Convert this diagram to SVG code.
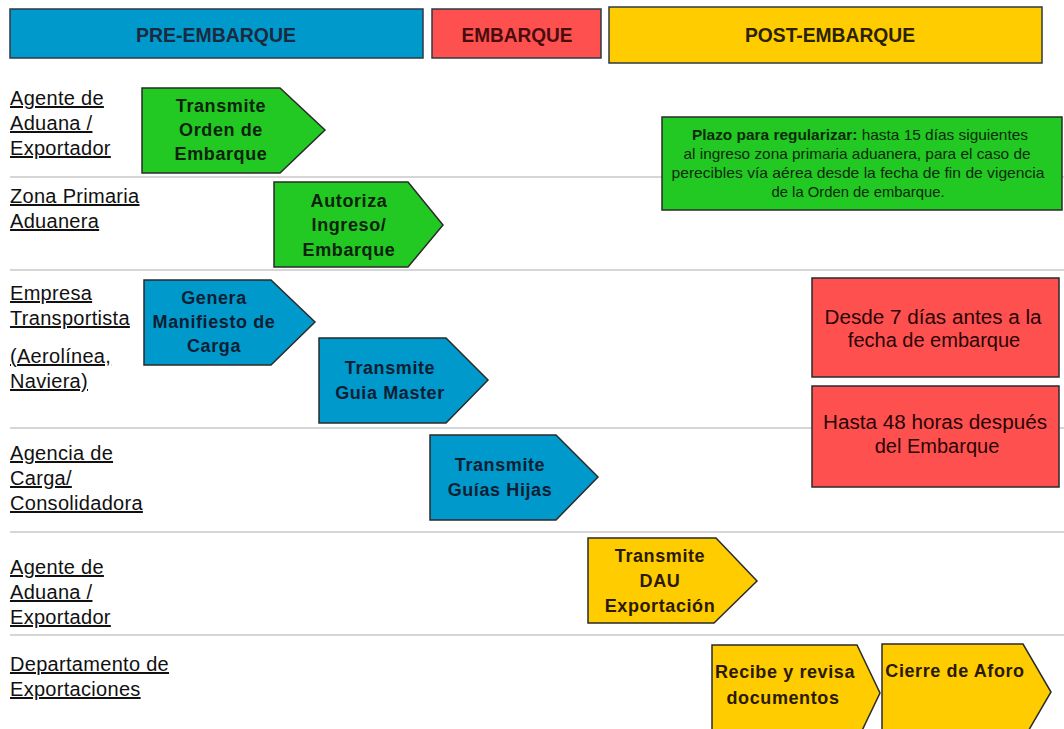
<svg xmlns="http://www.w3.org/2000/svg" width="1064" height="729" viewBox="0 0 1064 729">
<style>
  .bg{fill:#ffffff}
  .sep{stroke:#c8c8c8;stroke-width:1.5;fill:none}
  .hdr{stroke:#2e3a44;stroke-width:1.5}
  .htxt{font-family:"Liberation Sans",Arial,sans-serif;font-weight:bold;font-size:21px;text-anchor:middle}
  .lane{font-family:"Liberation Sans",Arial,sans-serif;font-size:20px;letter-spacing:0.3px;fill:#111;text-decoration:underline}
  .shape{stroke:#2a2a2a;stroke-width:1.5}
  .green{fill:#22c922}
  .blue{fill:#0099cc}
  .red{fill:#ff5050}
  .yellow{fill:#ffcc00}
  .atxt{font-family:"Liberation Sans",Arial,sans-serif;font-weight:bold;font-size:18px;letter-spacing:0.6px;text-anchor:middle}
  .rtxt{font-family:"Liberation Sans",Arial,sans-serif;font-size:20px;text-anchor:middle;fill:#2a0505}
  .ntxt{font-family:"Liberation Sans",Arial,sans-serif;font-size:14.5px;text-anchor:middle;fill:#0d2a0d}
</style>
<rect class="bg" x="0" y="0" width="1064" height="729"/>

<g id="connectors">
  <line class="sep" x1="10" y1="177" x2="1064" y2="177"/>
  <line class="sep" x1="10" y1="270" x2="1064" y2="270"/>
  <line class="sep" x1="10" y1="428" x2="1064" y2="428"/>
  <line class="sep" x1="10" y1="532" x2="1064" y2="532"/>
  <line class="sep" x1="10" y1="635" x2="1064" y2="635"/>
</g>

<g id="hdr-pre">
  <rect class="hdr" x="10" y="9" width="413" height="49" fill="#0099cc"/>
  <text class="htxt" x="216" y="42" fill="#1c2a40" textLength="160" lengthAdjust="spacingAndGlyphs">PRE-EMBARQUE</text>
</g>
<g id="hdr-emb">
  <rect class="hdr" x="432" y="9" width="169" height="49" fill="#ff5050"/>
  <text class="htxt" x="517" y="42" fill="#4a0d0d" textLength="111" lengthAdjust="spacingAndGlyphs">EMBARQUE</text>
</g>
<g id="hdr-post">
  <rect class="hdr" x="609" y="7" width="433" height="56" fill="#ffcc00"/>
  <text class="htxt" x="830" y="42" fill="#2a2200" textLength="170" lengthAdjust="spacingAndGlyphs">POST-EMBARQUE</text>
</g>

<g id="lane-agente1">
  <text class="lane" x="10" y="105">Agente de</text>
  <text class="lane" x="10" y="130">Aduana /</text>
  <text class="lane" x="10" y="155">Exportador</text>
</g>
<g id="lane-zona">
  <text class="lane" x="10" y="203">Zona Primaria</text>
  <text class="lane" x="10" y="228">Aduanera</text>
</g>
<g id="lane-empresa">
  <text class="lane" x="10" y="300">Empresa</text>
  <text class="lane" x="10" y="325">Transportista</text>
  <text class="lane" x="10" y="363">(Aerolínea,</text>
  <text class="lane" x="10" y="388">Naviera)</text>
</g>
<g id="lane-agencia">
  <text class="lane" x="10" y="460">Agencia de</text>
  <text class="lane" x="10" y="485">Carga/</text>
  <text class="lane" x="10" y="510">Consolidadora</text>
</g>
<g id="lane-agente2">
  <text class="lane" x="10" y="574">Agente de</text>
  <text class="lane" x="10" y="599">Aduana /</text>
  <text class="lane" x="10" y="624">Exportador</text>
</g>
<g id="lane-depto">
  <text class="lane" x="10" y="671">Departamento de</text>
  <text class="lane" x="10" y="696">Exportaciones</text>
</g>

<g id="n-orden">
  <polygon class="shape green" points="142,88 280,88 325,130 280,173 142,173"/>
  <text class="atxt" x="221" y="112" fill="#0d220d">Transmite</text>
  <text class="atxt" x="221" y="136" fill="#0d220d">Orden de</text>
  <text class="atxt" x="221" y="160" fill="#0d220d">Embarque</text>
</g>
<g id="n-autoriza">
  <polygon class="shape green" points="274,182 408,182 443,225 408,267 274,267"/>
  <text class="atxt" x="349" y="207" fill="#0d220d">Autoriza</text>
  <text class="atxt" x="349" y="231" fill="#0d220d">Ingreso/</text>
  <text class="atxt" x="349" y="256" fill="#0d220d">Embarque</text>
</g>
<g id="n-plazo">
  <rect class="shape green" x="662" y="117" width="400" height="93"/>
  <text class="ntxt" x="860" y="140" textLength="336" lengthAdjust="spacingAndGlyphs"><tspan font-weight="bold">Plazo para regularizar:</tspan> hasta 15 días siguientes</text>
  <text class="ntxt" x="857" y="159" textLength="347" lengthAdjust="spacingAndGlyphs">al ingreso zona primaria aduanera, para el caso de</text>
  <text class="ntxt" x="858" y="178" textLength="373" lengthAdjust="spacingAndGlyphs">perecibles  vía aérea desde la fecha de fin de vigencia</text>
  <text class="ntxt" x="858" y="197" textLength="173" lengthAdjust="spacingAndGlyphs">de la Orden de embarque.</text>
</g>
<g id="n-manifiesto">
  <polygon class="shape blue" points="144,280 271,280 315,322 271,365 144,365"/>
  <text class="atxt" x="214" y="304" fill="#0e1e33">Genera</text>
  <text class="atxt" x="214" y="328" fill="#0e1e33">Manifiesto de</text>
  <text class="atxt" x="214" y="352" fill="#0e1e33">Carga</text>
</g>
<g id="n-master">
  <polygon class="shape blue" points="319,338 446,338 488,380 446,423 319,423"/>
  <text class="atxt" x="390" y="374" fill="#0e1e33">Transmite</text>
  <text class="atxt" x="390" y="399" fill="#0e1e33">Guia Master</text>
</g>
<g id="n-hijas">
  <polygon class="shape blue" points="430,435 556,435 598,477 556,520 430,520"/>
  <text class="atxt" x="500" y="471" fill="#0e1e33">Transmite</text>
  <text class="atxt" x="500" y="496" fill="#0e1e33">Guías Hijas</text>
</g>
<g id="n-desde">
  <rect class="shape red" x="812" y="278" width="247" height="99"/>
  <text class="rtxt" x="933" y="324" textLength="217" lengthAdjust="spacingAndGlyphs">Desde 7 días antes a la</text>
  <text class="rtxt" x="934" y="347">fecha de embarque</text>
</g>
<g id="n-hasta">
  <rect class="shape red" x="812" y="386" width="247" height="101"/>
  <text class="rtxt" x="935" y="429" textLength="224" lengthAdjust="spacingAndGlyphs">Hasta 48 horas después</text>
  <text class="rtxt" x="937" y="453">del Embarque</text>
</g>
<g id="n-dau">
  <polygon class="shape yellow" points="588,538 716,538 757,581 714,623 588,623"/>
  <text class="atxt" x="660" y="562" fill="#2a1a00">Transmite</text>
  <text class="atxt" x="660" y="587" fill="#2a1a00">DAU</text>
  <text class="atxt" x="660" y="612" fill="#2a1a00">Exportación</text>
</g>
<g id="n-recibe">
  <polygon class="shape yellow" points="712,645 857,645 880,693 857,741 712,741"/>
  <text class="atxt" x="785" y="678" fill="#2a1a00">Recibe y revisa</text>
  <text class="atxt" x="783" y="704" fill="#2a1a00">documentos</text>
</g>
<g id="n-cierre">
  <polygon class="shape yellow" points="882,644 1023,644 1051,692 1023,740 882,740"/>
  <text class="atxt" x="955" y="677" fill="#2a1a00">Cierre de Aforo</text>
</g>
</svg>
